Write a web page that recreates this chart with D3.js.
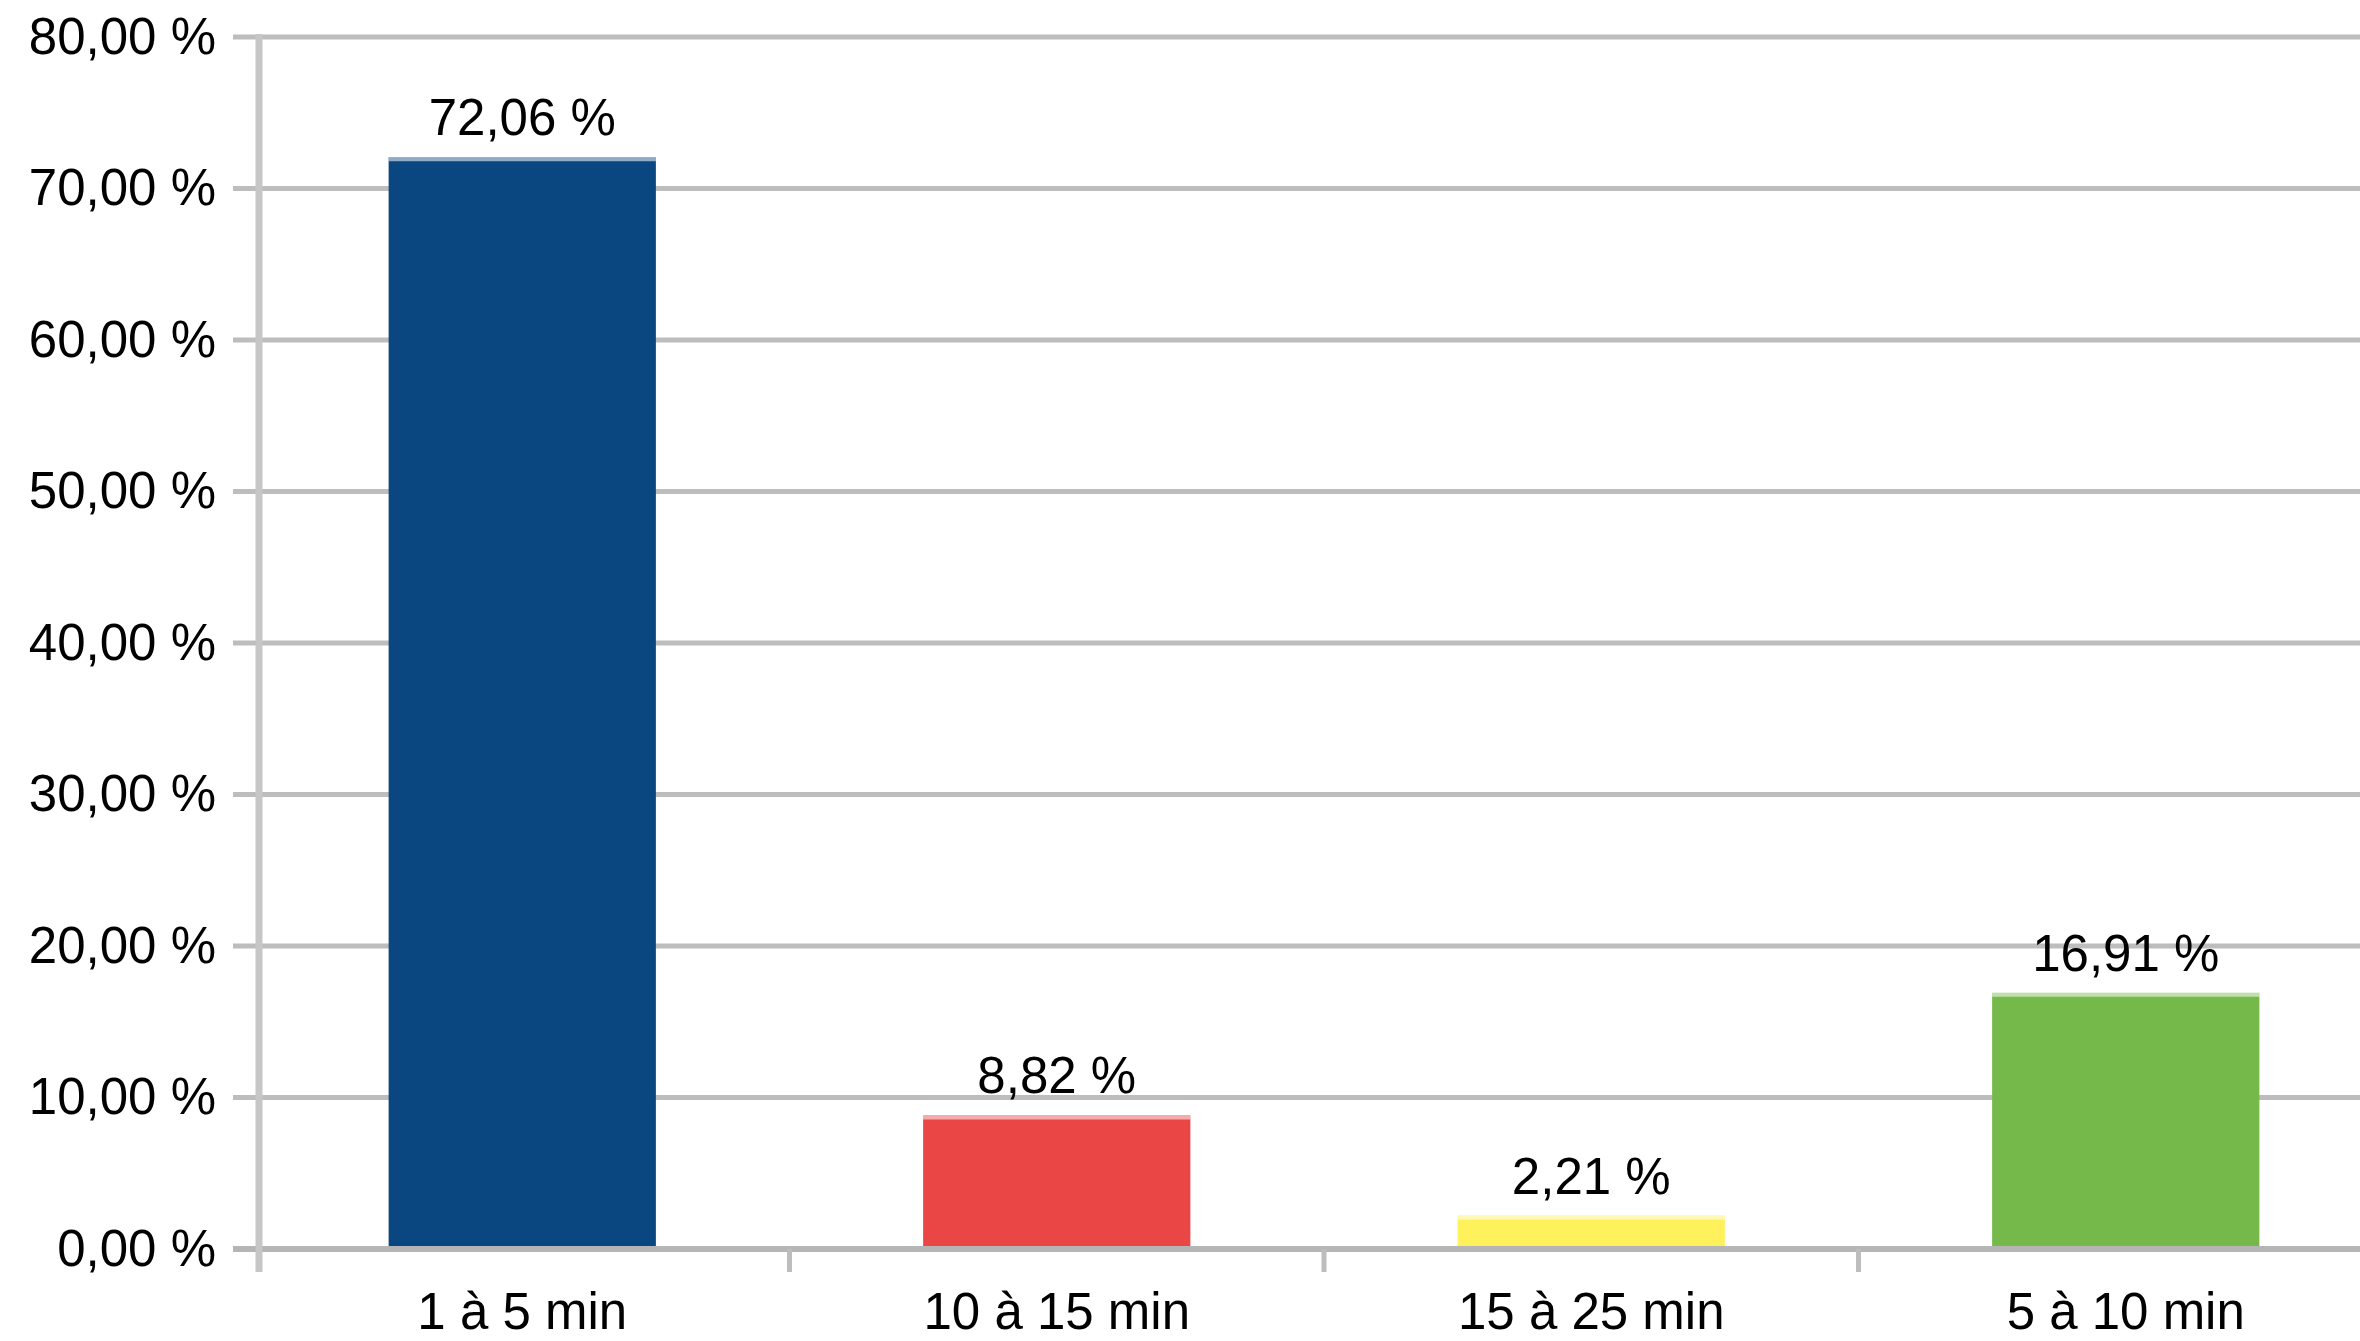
<!DOCTYPE html>
<html><head><meta charset="utf-8">
<script src="https://cdn.jsdelivr.net/npm/d3@7"></script>
<style>body{margin:0;background:#fff}svg{display:block}</style></head>
<body><svg id="c" width="2360" height="1341"></svg>
<script>
const categories = ["1 à 5 min", "10 à 15 min", "15 à 25 min", "5 à 10 min"];
const values = [72.06, 8.82, 2.21, 16.91];
const barColors = ["#0a4780", "#ea4646", "#fff15c", "#75b94b"];
const yTicks = [0, 10, 20, 30, 40, 50, 60, 70, 80];

const W = 2360, H = 1341;
const svg = d3.select("#c");
svg.append("rect").attr("width", W).attr("height", H).attr("fill", "#fff");

const fmt = v => d3.format(".2f")(v).replace(".", ",") + " %";
const y = d3.scaleLinear().domain([0, 80]).range([1249, 37]);
const x = d3.scaleBand().domain(categories).range([255, 255 + 4 * 534.5])
  .paddingInner(0.5).paddingOuter(0.25);
const axisX = 259, gridLeft = 233;

// gridlines (behind bars)
svg.append("g").selectAll("line").data(yTicks.filter(t => t !== 0)).join("line")
  .attr("x1", gridLeft).attr("x2", W)
  .attr("y1", d => y(d)).attr("y2", d => y(d))
  .attr("stroke", "#bdbdbd").attr("stroke-width", 5);

// bars
const bars = svg.append("g");
bars.selectAll("rect").data(values).join("rect")
  .attr("x", (d, i) => x(categories[i]))
  .attr("width", x.bandwidth())
  .attr("y", d => y(d))
  .attr("height", d => y(0) - y(d))
  .attr("fill", (d, i) => barColors[i]);
bars.selectAll("line.top").data(values).join("line").attr("class", "top")
  .attr("x1", (d, i) => x(categories[i])).attr("x2", (d, i) => x(categories[i]) + x.bandwidth())
  .attr("y1", d => y(d) + 2).attr("y2", d => y(d) + 2)
  .attr("stroke", "#fff").attr("stroke-opacity", 0.55).attr("stroke-width", 4);

// zero line
svg.append("line").attr("x1", gridLeft).attr("x2", W)
  .attr("y1", y(0)).attr("y2", y(0))
  .attr("stroke", "#b5b5b5").attr("stroke-width", 6);

// y axis line
svg.append("line").attr("x1", axisX).attr("x2", axisX)
  .attr("y1", y(80) - 3).attr("y2", 1272)
  .attr("stroke", "#c6c6c6").attr("stroke-width", 7);

// x category boundary ticks
const bounds = categories.slice(1).map(c => x(c) - x.step() * 0.25);
svg.append("g").selectAll("line").data(bounds).join("line")
  .attr("x1", d => d).attr("x2", d => d)
  .attr("y1", y(0)).attr("y2", 1272)
  .attr("stroke", "#bdbdbd").attr("stroke-width", 5);

const font = "'Liberation Sans', Arial, sans-serif";

// y axis labels
const yAxis = d3.axisLeft(y).tickValues(yTicks).tickFormat(fmt).tickSize(0).tickPadding(43);
const gy = svg.append("g").attr("transform", `translate(${axisX},0)`).call(yAxis);
gy.select(".domain").remove();
gy.selectAll("text").attr("font-family", font).attr("font-size", 51).attr("fill", "#000");

// x axis labels
const xAxis = d3.axisBottom(x).tickSize(0).tickPadding(0);
const gx = svg.append("g").attr("transform", `translate(0,1293)`).call(xAxis);
gx.select(".domain").remove();
gx.selectAll("text").attr("font-family", font).attr("font-size", 51).attr("fill", "#000")
  .attr("dy", "0.71em");

// value labels
svg.append("g").selectAll("text").data(values).join("text")
  .attr("x", (d, i) => x(categories[i]) + x.bandwidth() / 2)
  .attr("y", d => y(d) - 22)
  .attr("text-anchor", "middle")
  .attr("font-family", font).attr("font-size", 51).attr("fill", "#000")
  .text(fmt);
</script>
</body></html>
